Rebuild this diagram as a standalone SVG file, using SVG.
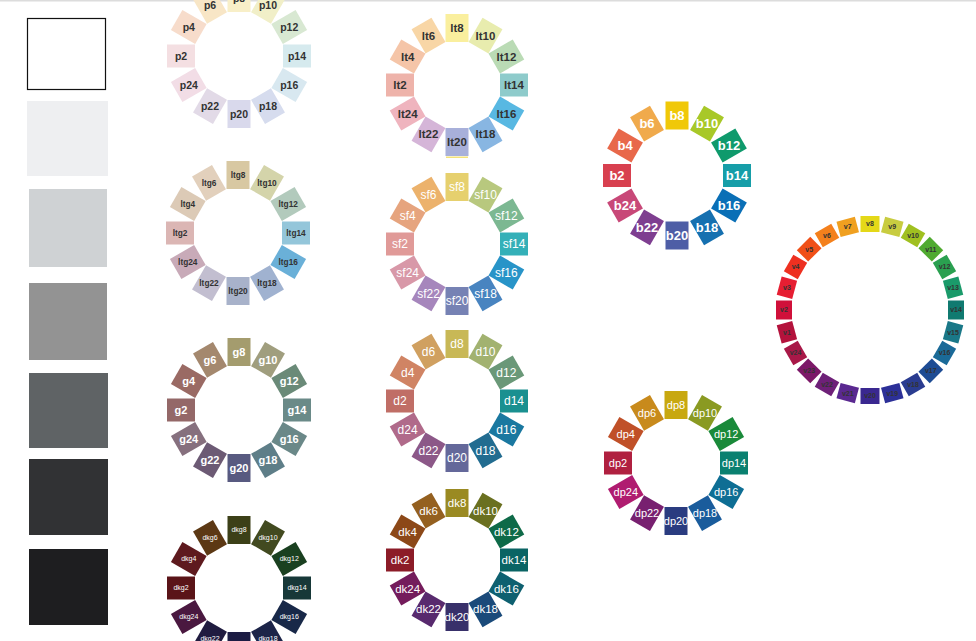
<svg xmlns="http://www.w3.org/2000/svg" width="976" height="641" viewBox="0 0 976 641">
<style>
text{font-family:"Liberation Sans",Arial,sans-serif;text-anchor:middle;font-weight:bold}
.k text{fill:#333}
.w text{fill:#fff}
.s12 rect{x:-14px;y:-11.5px;width:28px;height:23px}
.sv rect{x:-8px;y:-9.5px;width:16px;height:19px}
.fp text{font-size:10.5px}
.flt text{font-size:11.5px}
.fb text{font-size:13px}
.fltg text{font-size:8.3px}
.fsf text{font-size:12px;font-weight:normal}
.fg text{font-size:11px}
.fd text{font-size:12px;font-weight:normal}
.fdkg text{font-size:7px;font-weight:normal}
.fdk text{font-size:11.5px;font-weight:normal}
.fdp text{font-size:11px;font-weight:normal}
.fv text{font-size:7px}
</style>
<rect x="0" y="0" width="976" height="641" fill="#fff"/>
<rect x="0" y="0" width="976" height="1.5" fill="#dcdcdc"/>

<g id="grays">
<g id="gray-white"><rect x="27.5" y="18.5" width="78" height="71" fill="#fff" stroke="#111" stroke-width="1.2"/></g>
<g id="gray-1"><rect x="27" y="101" width="81" height="75" fill="#eeeff1"/></g>
<g id="gray-2"><rect x="29" y="189" width="78" height="78" fill="#cfd2d4"/></g>
<g id="gray-3"><rect x="29" y="283" width="78" height="77" fill="#939393"/></g>
<g id="gray-4"><rect x="29" y="373" width="79" height="75" fill="#5f6365"/></g>
<g id="gray-5"><rect x="29" y="459" width="79" height="76" fill="#313234"/></g>
<g id="gray-6"><rect x="29" y="549" width="79" height="76" fill="#1e1e20"/></g>
</g>

<!-- pale -->
<g id="wheel-p" class="s12 k fp" transform="translate(239 56)">
<g id="p2" transform="rotate(180) translate(58 0)"><rect fill="#f4dfe2"/><text transform="rotate(-180)" dy="0.35em">p2</text></g>
<g id="p4" transform="rotate(-150) translate(58 0)"><rect fill="#f7dccb"/><text transform="rotate(150)" dy="0.35em">p4</text></g>
<g id="p6" transform="rotate(-120) translate(58 0)"><rect fill="#f8e6c6"/><text transform="rotate(120)" dy="0.35em">p6</text></g>
<g id="p8" transform="rotate(-90) translate(58 0)"><rect fill="#f8efc8"/><text transform="rotate(90)" dy="0.35em">p8</text></g>
<g id="p10" transform="rotate(-60) translate(58 0)"><rect fill="#f1efc8"/><text transform="rotate(60)" dy="0.35em">p10</text></g>
<g id="p12" transform="rotate(-30) translate(58 0)"><rect fill="#d8e8d2"/><text transform="rotate(30)" dy="0.35em">p12</text></g>
<g id="p14" transform="rotate(0) translate(58 0)"><rect fill="#d6eaee"/><text dy="0.35em">p14</text></g>
<g id="p16" transform="rotate(30) translate(58 0)"><rect fill="#d8e8f0"/><text transform="rotate(-30)" dy="0.35em">p16</text></g>
<g id="p18" transform="rotate(60) translate(58 0)"><rect fill="#d6dcee"/><text transform="rotate(-60)" dy="0.35em">p18</text></g>
<g id="p20" transform="rotate(90) translate(58 0)"><rect fill="#d9d9ec"/><text transform="rotate(-90)" dy="0.35em">p20</text></g>
<g id="p22" transform="rotate(120) translate(58 0)"><rect fill="#e2dae7"/><text transform="rotate(-120)" dy="0.35em">p22</text></g>
<g id="p24" transform="rotate(150) translate(58 0)"><rect fill="#f2dde6"/><text transform="rotate(-150)" dy="0.35em">p24</text></g>
</g>

<!-- light -->
<g id="wheel-lt" class="s12 k flt" transform="translate(457 85)">
<g id="lt2" transform="rotate(180) translate(57 0)"><rect fill="#eeb3aa"/><text transform="rotate(-180)" dy="0.35em">lt2</text></g>
<g id="lt4" transform="rotate(-150) translate(57 0)"><rect fill="#f5c5a8"/><text transform="rotate(150)" dy="0.35em">lt4</text></g>
<g id="lt6" transform="rotate(-120) translate(57 0)"><rect fill="#f8d6a6"/><text transform="rotate(120)" dy="0.35em">lt6</text></g>
<g id="lt8" transform="rotate(-90) translate(57 0)"><rect fill="#faef9e"/><text transform="rotate(90)" dy="0.35em">lt8</text></g>
<g id="lt10" transform="rotate(-60) translate(57 0)"><rect fill="#e8ecae"/><text transform="rotate(60)" dy="0.35em">lt10</text></g>
<g id="lt12" transform="rotate(-30) translate(57 0)"><rect fill="#badbb5"/><text transform="rotate(30)" dy="0.35em">lt12</text></g>
<g id="lt14" transform="rotate(0) translate(57 0)"><rect fill="#8ecbcb"/><text dy="0.35em">lt14</text></g>
<g id="lt16" transform="rotate(30) translate(57 0)"><rect fill="#58b8e2"/><text transform="rotate(-30)" dy="0.35em">lt16</text></g>
<g id="lt18" transform="rotate(60) translate(57 0)"><rect fill="#88b6e2"/><text transform="rotate(-60)" dy="0.35em">lt18</text></g>
<g id="lt20" transform="rotate(90) translate(57 0)"><rect fill="#a8b0da"/><text transform="rotate(-90)" dy="0.35em">lt20</text></g>
<g id="lt22" transform="rotate(120) translate(57 0)"><rect fill="#d5b5d8"/><text transform="rotate(-120)" dy="0.35em">lt22</text></g>
<g id="lt24" transform="rotate(150) translate(57 0)"><rect fill="#efb4be"/><text transform="rotate(-150)" dy="0.35em">lt24</text></g>
</g>
<rect x="446" y="156.5" width="22" height="1.5" fill="#f4e27a"/>

<!-- bright -->
<g id="wheel-b" class="s12 w fb" transform="translate(677 175.5)">
<g id="b2" transform="rotate(180) translate(60 0)"><rect fill="#d8404f"/><text transform="rotate(-180)" dy="0.35em">b2</text></g>
<g id="b4" transform="rotate(-150) translate(60 0)"><rect fill="#e8684a"/><text transform="rotate(150)" dy="0.35em">b4</text></g>
<g id="b6" transform="rotate(-120) translate(60 0)"><rect fill="#f0aa4c"/><text transform="rotate(120)" dy="0.35em">b6</text></g>
<g id="b8" transform="rotate(-90) translate(60 0)"><rect fill="#f0c808"/><text transform="rotate(90)" dy="0.35em">b8</text></g>
<g id="b10" transform="rotate(-60) translate(60 0)"><rect fill="#a8c828"/><text transform="rotate(60)" dy="0.35em">b10</text></g>
<g id="b12" transform="rotate(-30) translate(60 0)"><rect fill="#0f9a6c"/><text transform="rotate(30)" dy="0.35em">b12</text></g>
<g id="b14" transform="rotate(0) translate(60 0)"><rect fill="#169ea8"/><text dy="0.35em">b14</text></g>
<g id="b16" transform="rotate(30) translate(60 0)"><rect fill="#0a6fb6"/><text transform="rotate(-30)" dy="0.35em">b16</text></g>
<g id="b18" transform="rotate(60) translate(60 0)"><rect fill="#1670b0"/><text transform="rotate(-60)" dy="0.35em">b18</text></g>
<g id="b20" transform="rotate(90) translate(60 0)"><rect fill="#4e5ea6"/><text transform="rotate(-90)" dy="0.35em">b20</text></g>
<g id="b22" transform="rotate(120) translate(60 0)"><rect fill="#7e3e90"/><text transform="rotate(-120)" dy="0.35em">b22</text></g>
<g id="b24" transform="rotate(150) translate(60 0)"><rect fill="#c84878"/><text transform="rotate(-150)" dy="0.35em">b24</text></g>
</g>

<!-- light grayish -->
<g id="wheel-ltg" class="s12 k fltg" transform="translate(238 233)">
<g id="ltg2" transform="rotate(180) translate(58 0)"><rect fill="#dbb6b4"/><text transform="rotate(-180)" dy="0.35em">ltg2</text></g>
<g id="ltg4" transform="rotate(-150) translate(58 0)"><rect fill="#dccab6"/><text transform="rotate(150)" dy="0.35em">ltg4</text></g>
<g id="ltg6" transform="rotate(-120) translate(58 0)"><rect fill="#e2d0bc"/><text transform="rotate(120)" dy="0.35em">ltg6</text></g>
<g id="ltg8" transform="rotate(-90) translate(58 0)"><rect fill="#d8c8a2"/><text transform="rotate(90)" dy="0.35em">ltg8</text></g>
<g id="ltg10" transform="rotate(-60) translate(58 0)"><rect fill="#d4d4aa"/><text transform="rotate(60)" dy="0.35em">ltg10</text></g>
<g id="ltg12" transform="rotate(-30) translate(58 0)"><rect fill="#b2cabc"/><text transform="rotate(30)" dy="0.35em">ltg12</text></g>
<g id="ltg14" transform="rotate(0) translate(58 0)"><rect fill="#94c6da"/><text dy="0.35em">ltg14</text></g>
<g id="ltg16" transform="rotate(30) translate(58 0)"><rect fill="#6ab0d8"/><text transform="rotate(-30)" dy="0.35em">ltg16</text></g>
<g id="ltg18" transform="rotate(60) translate(58 0)"><rect fill="#a0b2d0"/><text transform="rotate(-60)" dy="0.35em">ltg18</text></g>
<g id="ltg20" transform="rotate(90) translate(58 0)"><rect fill="#a8b2ca"/><text transform="rotate(-90)" dy="0.35em">ltg20</text></g>
<g id="ltg22" transform="rotate(120) translate(58 0)"><rect fill="#c2bed0"/><text transform="rotate(-120)" dy="0.35em">ltg22</text></g>
<g id="ltg24" transform="rotate(150) translate(58 0)"><rect fill="#c8aab8"/><text transform="rotate(-150)" dy="0.35em">ltg24</text></g>
</g>

<!-- soft -->
<g id="wheel-sf" class="s12 w fsf" transform="translate(457 244)">
<g id="sf2" transform="rotate(180) translate(57 0)"><rect fill="#e09a98"/><text transform="rotate(-180)" dy="0.35em">sf2</text></g>
<g id="sf4" transform="rotate(-150) translate(57 0)"><rect fill="#e6a47e"/><text transform="rotate(150)" dy="0.35em">sf4</text></g>
<g id="sf6" transform="rotate(-120) translate(57 0)"><rect fill="#ecb26c"/><text transform="rotate(120)" dy="0.35em">sf6</text></g>
<g id="sf8" transform="rotate(-90) translate(57 0)"><rect fill="#e6d06e"/><text transform="rotate(90)" dy="0.35em">sf8</text></g>
<g id="sf10" transform="rotate(-60) translate(57 0)"><rect fill="#b8c87e"/><text transform="rotate(60)" dy="0.35em">sf10</text></g>
<g id="sf12" transform="rotate(-30) translate(57 0)"><rect fill="#7cb892"/><text transform="rotate(30)" dy="0.35em">sf12</text></g>
<g id="sf14" transform="rotate(0) translate(57 0)"><rect fill="#34b0b8"/><text dy="0.35em">sf14</text></g>
<g id="sf16" transform="rotate(30) translate(57 0)"><rect fill="#2894c8"/><text transform="rotate(-30)" dy="0.35em">sf16</text></g>
<g id="sf18" transform="rotate(60) translate(57 0)"><rect fill="#4884c0"/><text transform="rotate(-60)" dy="0.35em">sf18</text></g>
<g id="sf20" transform="rotate(90) translate(57 0)"><rect fill="#7682b4"/><text transform="rotate(-90)" dy="0.35em">sf20</text></g>
<g id="sf22" transform="rotate(120) translate(57 0)"><rect fill="#a686bc"/><text transform="rotate(-120)" dy="0.35em">sf22</text></g>
<g id="sf24" transform="rotate(150) translate(57 0)"><rect fill="#d898a8"/><text transform="rotate(-150)" dy="0.35em">sf24</text></g>
</g>

<!-- grayish -->
<g id="wheel-g" class="s12 w fg" transform="translate(239 410)">
<g id="g2" transform="rotate(180) translate(58 0)"><rect fill="#946868"/><text transform="rotate(-180)" dy="0.35em">g2</text></g>
<g id="g4" transform="rotate(-150) translate(58 0)"><rect fill="#9a6a64"/><text transform="rotate(150)" dy="0.35em">g4</text></g>
<g id="g6" transform="rotate(-120) translate(58 0)"><rect fill="#a4886e"/><text transform="rotate(120)" dy="0.35em">g6</text></g>
<g id="g8" transform="rotate(-90) translate(58 0)"><rect fill="#a49c6e"/><text transform="rotate(90)" dy="0.35em">g8</text></g>
<g id="g10" transform="rotate(-60) translate(58 0)"><rect fill="#a09e7e"/><text transform="rotate(60)" dy="0.35em">g10</text></g>
<g id="g12" transform="rotate(-30) translate(58 0)"><rect fill="#6a8a78"/><text transform="rotate(30)" dy="0.35em">g12</text></g>
<g id="g14" transform="rotate(0) translate(58 0)"><rect fill="#6a8a88"/><text dy="0.35em">g14</text></g>
<g id="g16" transform="rotate(30) translate(58 0)"><rect fill="#6a8888"/><text transform="rotate(-30)" dy="0.35em">g16</text></g>
<g id="g18" transform="rotate(60) translate(58 0)"><rect fill="#5e7e88"/><text transform="rotate(-60)" dy="0.35em">g18</text></g>
<g id="g20" transform="rotate(90) translate(58 0)"><rect fill="#585a80"/><text transform="rotate(-90)" dy="0.35em">g20</text></g>
<g id="g22" transform="rotate(120) translate(58 0)"><rect fill="#6c5a74"/><text transform="rotate(-120)" dy="0.35em">g22</text></g>
<g id="g24" transform="rotate(150) translate(58 0)"><rect fill="#86707e"/><text transform="rotate(-150)" dy="0.35em">g24</text></g>
</g>

<!-- dull -->
<g id="wheel-d" class="s12 w fd" transform="translate(457 401)">
<g id="d2" transform="rotate(180) translate(57 0)"><rect fill="#c06e66"/><text transform="rotate(-180)" dy="0.35em">d2</text></g>
<g id="d4" transform="rotate(-150) translate(57 0)"><rect fill="#d08464"/><text transform="rotate(150)" dy="0.35em">d4</text></g>
<g id="d6" transform="rotate(-120) translate(57 0)"><rect fill="#d0a060"/><text transform="rotate(120)" dy="0.35em">d6</text></g>
<g id="d8" transform="rotate(-90) translate(57 0)"><rect fill="#c8b856"/><text transform="rotate(90)" dy="0.35em">d8</text></g>
<g id="d10" transform="rotate(-60) translate(57 0)"><rect fill="#a2b270"/><text transform="rotate(60)" dy="0.35em">d10</text></g>
<g id="d12" transform="rotate(-30) translate(57 0)"><rect fill="#6a9878"/><text transform="rotate(30)" dy="0.35em">d12</text></g>
<g id="d14" transform="rotate(0) translate(57 0)"><rect fill="#1a9090"/><text dy="0.35em">d14</text></g>
<g id="d16" transform="rotate(30) translate(57 0)"><rect fill="#1a78a0"/><text transform="rotate(-30)" dy="0.35em">d16</text></g>
<g id="d18" transform="rotate(60) translate(57 0)"><rect fill="#226c90"/><text transform="rotate(-60)" dy="0.35em">d18</text></g>
<g id="d20" transform="rotate(90) translate(57 0)"><rect fill="#64689a"/><text transform="rotate(-90)" dy="0.35em">d20</text></g>
<g id="d22" transform="rotate(120) translate(57 0)"><rect fill="#8c5888"/><text transform="rotate(-120)" dy="0.35em">d22</text></g>
<g id="d24" transform="rotate(150) translate(57 0)"><rect fill="#b06a8a"/><text transform="rotate(-150)" dy="0.35em">d24</text></g>
</g>

<!-- dark grayish -->
<g id="wheel-dkg" class="s12 w fdkg" transform="translate(239 588)">
<g id="dkg2" transform="rotate(180) translate(58 0)"><rect fill="#5a1418"/><text transform="rotate(-180)" dy="0.35em">dkg2</text></g>
<g id="dkg4" transform="rotate(-150) translate(58 0)"><rect fill="#5e1a1e"/><text transform="rotate(150)" dy="0.35em">dkg4</text></g>
<g id="dkg6" transform="rotate(-120) translate(58 0)"><rect fill="#5c3814"/><text transform="rotate(120)" dy="0.35em">dkg6</text></g>
<g id="dkg8" transform="rotate(-90) translate(58 0)"><rect fill="#3c4018"/><text transform="rotate(90)" dy="0.35em">dkg8</text></g>
<g id="dkg10" transform="rotate(-60) translate(58 0)"><rect fill="#424a20"/><text transform="rotate(60)" dy="0.35em">dkg10</text></g>
<g id="dkg12" transform="rotate(-30) translate(58 0)"><rect fill="#1a4020"/><text transform="rotate(30)" dy="0.35em">dkg12</text></g>
<g id="dkg14" transform="rotate(0) translate(58 0)"><rect fill="#173838"/><text dy="0.35em">dkg14</text></g>
<g id="dkg16" transform="rotate(30) translate(58 0)"><rect fill="#182848"/><text transform="rotate(-30)" dy="0.35em">dkg16</text></g>
<g id="dkg18" transform="rotate(60) translate(58 0)"><rect fill="#1c2448"/><text transform="rotate(-60)" dy="0.35em">dkg18</text></g>
<g id="dkg20" transform="rotate(90) translate(58 0)"><rect fill="#1c1c44"/><text transform="rotate(-90)" dy="0.35em">dkg20</text></g>
<g id="dkg22" transform="rotate(120) translate(58 0)"><rect fill="#201c40"/><text transform="rotate(-120)" dy="0.35em">dkg22</text></g>
<g id="dkg24" transform="rotate(150) translate(58 0)"><rect fill="#4a1840"/><text transform="rotate(-150)" dy="0.35em">dkg24</text></g>
</g>

<!-- dark -->
<g id="wheel-dk" class="s12 w fdk" transform="translate(457 560)">
<g id="dk2" transform="rotate(180) translate(57 0)"><rect fill="#8c1c28"/><text transform="rotate(-180)" dy="0.35em">dk2</text></g>
<g id="dk4" transform="rotate(-150) translate(57 0)"><rect fill="#8c4818"/><text transform="rotate(150)" dy="0.35em">dk4</text></g>
<g id="dk6" transform="rotate(-120) translate(57 0)"><rect fill="#946020"/><text transform="rotate(120)" dy="0.35em">dk6</text></g>
<g id="dk8" transform="rotate(-90) translate(57 0)"><rect fill="#9a8a22"/><text transform="rotate(90)" dy="0.35em">dk8</text></g>
<g id="dk10" transform="rotate(-60) translate(57 0)"><rect fill="#6a7020"/><text transform="rotate(60)" dy="0.35em">dk10</text></g>
<g id="dk12" transform="rotate(-30) translate(57 0)"><rect fill="#0e6a48"/><text transform="rotate(30)" dy="0.35em">dk12</text></g>
<g id="dk14" transform="rotate(0) translate(57 0)"><rect fill="#0a6464"/><text dy="0.35em">dk14</text></g>
<g id="dk16" transform="rotate(30) translate(57 0)"><rect fill="#0e6070"/><text transform="rotate(-30)" dy="0.35em">dk16</text></g>
<g id="dk18" transform="rotate(60) translate(57 0)"><rect fill="#1a4a7a"/><text transform="rotate(-60)" dy="0.35em">dk18</text></g>
<g id="dk20" transform="rotate(90) translate(57 0)"><rect fill="#38306a"/><text transform="rotate(-90)" dy="0.35em">dk20</text></g>
<g id="dk22" transform="rotate(120) translate(57 0)"><rect fill="#582a6e"/><text transform="rotate(-120)" dy="0.35em">dk22</text></g>
<g id="dk24" transform="rotate(150) translate(57 0)"><rect fill="#741c5c"/><text transform="rotate(-150)" dy="0.35em">dk24</text></g>
</g>

<!-- deep -->
<g id="wheel-dp" class="s12 w fdp" transform="translate(676 463)">
<g id="dp2" transform="rotate(180) translate(58 0)"><rect fill="#b02040"/><text transform="rotate(-180)" dy="0.35em">dp2</text></g>
<g id="dp4" transform="rotate(-150) translate(58 0)"><rect fill="#c05028"/><text transform="rotate(150)" dy="0.35em">dp4</text></g>
<g id="dp6" transform="rotate(-120) translate(58 0)"><rect fill="#c88a1c"/><text transform="rotate(120)" dy="0.35em">dp6</text></g>
<g id="dp8" transform="rotate(-90) translate(58 0)"><rect fill="#c8a810"/><text transform="rotate(90)" dy="0.35em">dp8</text></g>
<g id="dp10" transform="rotate(-60) translate(58 0)"><rect fill="#8a9a22"/><text transform="rotate(60)" dy="0.35em">dp10</text></g>
<g id="dp12" transform="rotate(-30) translate(58 0)"><rect fill="#1a8a3a"/><text transform="rotate(30)" dy="0.35em">dp12</text></g>
<g id="dp14" transform="rotate(0) translate(58 0)"><rect fill="#0a8070"/><text dy="0.35em">dp14</text></g>
<g id="dp16" transform="rotate(30) translate(58 0)"><rect fill="#0e6e94"/><text transform="rotate(-30)" dy="0.35em">dp16</text></g>
<g id="dp18" transform="rotate(60) translate(58 0)"><rect fill="#1a5c9c"/><text transform="rotate(-60)" dy="0.35em">dp18</text></g>
<g id="dp20" transform="rotate(90) translate(58 0)"><rect fill="#2a3c80"/><text transform="rotate(-90)" dy="0.35em">dp20</text></g>
<g id="dp22" transform="rotate(120) translate(58 0)"><rect fill="#782070"/><text transform="rotate(-120)" dy="0.35em">dp22</text></g>
<g id="dp24" transform="rotate(150) translate(58 0)"><rect fill="#b01c70"/><text transform="rotate(-150)" dy="0.35em">dp24</text></g>
</g>

<!-- vivid -->
<g id="wheel-v" class="sv k fv" transform="translate(870 310)">
<g id="v1" transform="rotate(165) translate(86 0)"><rect fill="#b4123c"/><text transform="rotate(-165)" dy="0.35em">v1</text></g>
<g id="v2" transform="rotate(180) translate(86 0)"><rect fill="#d0103a"/><text transform="rotate(-180)" dy="0.35em">v2</text></g>
<g id="v3" transform="rotate(-165) translate(86 0)"><rect fill="#e61e32"/><text transform="rotate(165)" dy="0.35em">v3</text></g>
<g id="v4" transform="rotate(-150) translate(86 0)"><rect fill="#ee3020"/><text transform="rotate(150)" dy="0.35em">v4</text></g>
<g id="v5" transform="rotate(-135) translate(86 0)"><rect fill="#f05018"/><text transform="rotate(135)" dy="0.35em">v5</text></g>
<g id="v6" transform="rotate(-120) translate(86 0)"><rect fill="#f4801c"/><text transform="rotate(120)" dy="0.35em">v6</text></g>
<g id="v7" transform="rotate(-105) translate(86 0)"><rect fill="#f0a020"/><text transform="rotate(105)" dy="0.35em">v7</text></g>
<g id="v8" transform="rotate(-90) translate(86 0)"><rect fill="#e4d818"/><text transform="rotate(90)" dy="0.35em">v8</text></g>
<g id="v9" transform="rotate(-75) translate(86 0)"><rect fill="#c8cc40"/><text transform="rotate(75)" dy="0.35em">v9</text></g>
<g id="v10" transform="rotate(-60) translate(86 0)"><rect fill="#a0c020"/><text transform="rotate(60)" dy="0.35em">v10</text></g>
<g id="v11" transform="rotate(-45) translate(86 0)"><rect fill="#50aa30"/><text transform="rotate(45)" dy="0.35em">v11</text></g>
<g id="v12" transform="rotate(-30) translate(86 0)"><rect fill="#2aa050"/><text transform="rotate(30)" dy="0.35em">v12</text></g>
<g id="v13" transform="rotate(-15) translate(86 0)"><rect fill="#1a9a6a"/><text transform="rotate(15)" dy="0.35em">v13</text></g>
<g id="v14" transform="rotate(0) translate(86 0)"><rect fill="#107a70"/><text dy="0.35em">v14</text></g>
<g id="v15" transform="rotate(15) translate(86 0)"><rect fill="#1a7888"/><text transform="rotate(-15)" dy="0.35em">v15</text></g>
<g id="v16" transform="rotate(30) translate(86 0)"><rect fill="#1a6a98"/><text transform="rotate(-30)" dy="0.35em">v16</text></g>
<g id="v17" transform="rotate(45) translate(86 0)"><rect fill="#1e4c94"/><text transform="rotate(-45)" dy="0.35em">v17</text></g>
<g id="v18" transform="rotate(60) translate(86 0)"><rect fill="#2a3c90"/><text transform="rotate(-60)" dy="0.35em">v18</text></g>
<g id="v19" transform="rotate(75) translate(86 0)"><rect fill="#2c3098"/><text transform="rotate(-75)" dy="0.35em">v19</text></g>
<g id="v20" transform="rotate(90) translate(86 0)"><rect fill="#3a2890"/><text transform="rotate(-90)" dy="0.35em">v20</text></g>
<g id="v21" transform="rotate(105) translate(86 0)"><rect fill="#5a2890"/><text transform="rotate(-105)" dy="0.35em">v21</text></g>
<g id="v22" transform="rotate(120) translate(86 0)"><rect fill="#6e2078"/><text transform="rotate(-120)" dy="0.35em">v22</text></g>
<g id="v23" transform="rotate(135) translate(86 0)"><rect fill="#7c1868"/><text transform="rotate(-135)" dy="0.35em">v23</text></g>
<g id="v24" transform="rotate(150) translate(86 0)"><rect fill="#a81848"/><text transform="rotate(-150)" dy="0.35em">v24</text></g>
</g>

<g id="connectors"/>
</svg>
